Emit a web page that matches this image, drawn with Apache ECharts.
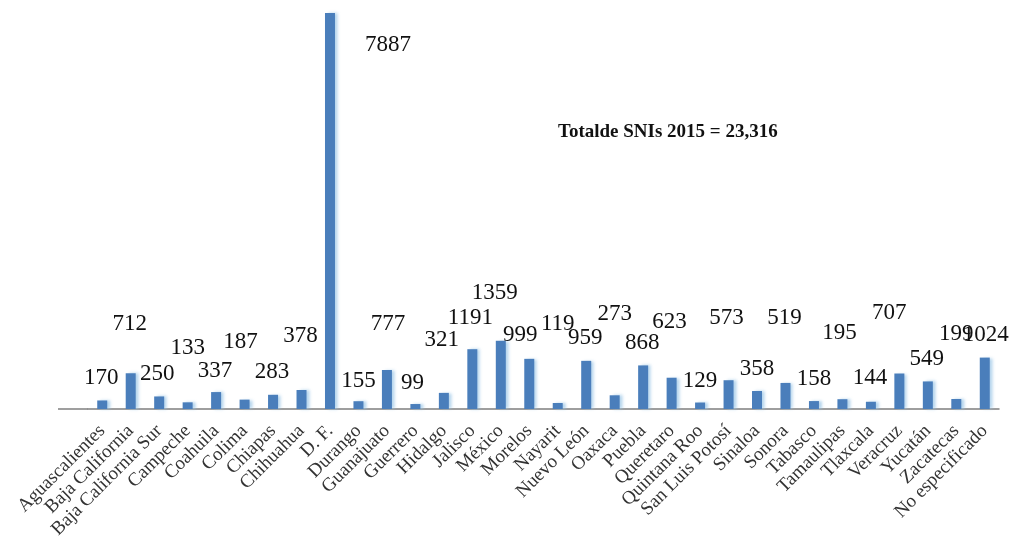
<!DOCTYPE html>
<html>
<head>
<meta charset="utf-8">
<script src="https://cdn.jsdelivr.net/npm/echarts@6/dist/echarts.min.js"></script>
<style>
  html, body { margin: 0; padding: 0; background: #fff; }
  #main { width: 1012px; height: 554px; }
</style>
</head>
<body>
<div id="main"></div>
<script>
// SNI por entidad federativa, 2015
var estados = ['Aguascalientes', 'Baja California', 'Baja California Sur', 'Campeche', 'Coahuila', 'Colima',
  'Chiapas', 'Chihuahua', 'D. F.', 'Durango', 'Guanajuato', 'Guerrero', 'Hidalgo', 'Jalisco', 'México',
  'Morelos', 'Nayarit', 'Nuevo León', 'Oaxaca', 'Puebla', 'Queretaro', 'Quintana Roo', 'San Luis Potosí',
  'Sinaloa', 'Sonora', 'Tabasco', 'Tamaulipas', 'Tlaxcala', 'Veracruz', 'Yucatán', 'Zacatecas', 'No especificado'];
var investigadores = [170, 712, 250, 133, 337, 187, 283, 378, 7887, 155, 777, 99, 321, 1191, 1359,
  999, 119, 959, 273, 868, 623, 129, 573, 358, 519, 158, 195, 144, 707, 549, 199, 1024];
var totalTexto = 'Totalde SNIs 2015 = 23,316';

// desplazamiento de las etiquetas (px) como quedaron en el original
var labelShift = [[-1, -6], [-1, -33], [-2, -6], [0, -38], [-1, -5], [-4, -41], [-1, -6], [-1, -38],
  [58, 48], [0, -4], [1, -30], [-3, -5], [-2, -36], [-2, -15], [-6, -31], [-9, -7], [0, -63], [-1, -6],
  [0, -65], [-1, -6], [-2, -39], [0, -5], [-2, -46], [0, -6], [-1, -48], [0, -6], [-3, -50], [-1, -7],
  [-10, -44], [-1, -6], [0, -49], [1, -6]];

var chart = echarts.init(document.getElementById('main'));

var data = investigadores.map(function (v, i) {
  return {
    value: v,
    label: { offset: labelShift[i] }
  };
});

var option = {
  animation: false,
  backgroundColor: '#ffffff',
  title: {
    text: totalTexto,
    left: 553,
    top: 118,
    textStyle: {
      fontFamily: 'Liberation Serif',
      fontWeight: 'bold',
      fontSize: 19,
      color: '#111'
    }
  },
  grid: {
    left: 88,
    right: 13,
    top: 13,
    bottom: 145
  },
  xAxis: {
    type: 'category',
    data: estados,
    axisTick: { show: false },
    axisLine: { lineStyle: { color: '#7f7f7f', width: 1.5 } },
    axisLabel: {
      rotate: 45,
      interval: 0,
      margin: 19,
      fontFamily: 'Liberation Serif',
      fontSize: 19,
      color: '#333'
    }
  },
  yAxis: {
    type: 'value',
    min: 0,
    max: 7887,
    show: false,
    splitLine: { show: false }
  },
  graphic: [{
    type: 'line',
    shape: { x1: 58, y1: 409, x2: 88, y2: 409 },
    style: { stroke: '#7f7f7f', lineWidth: 1.5 }
  }],
  series: [{
    type: 'bar',
    data: data,
    barWidth: 10,
    itemStyle: {
      color: '#4a7ebb',
      shadowColor: 'rgba(150,195,230,0.7)',
      shadowOffsetX: 3,
      shadowBlur: 3
    },
    label: {
      show: true,
      position: 'top',
      distance: 5,
      fontFamily: 'Liberation Serif',
      fontSize: 23,
      color: '#111'
    }
  }]
};

chart.setOption(option);
</script>
</body>
</html>
